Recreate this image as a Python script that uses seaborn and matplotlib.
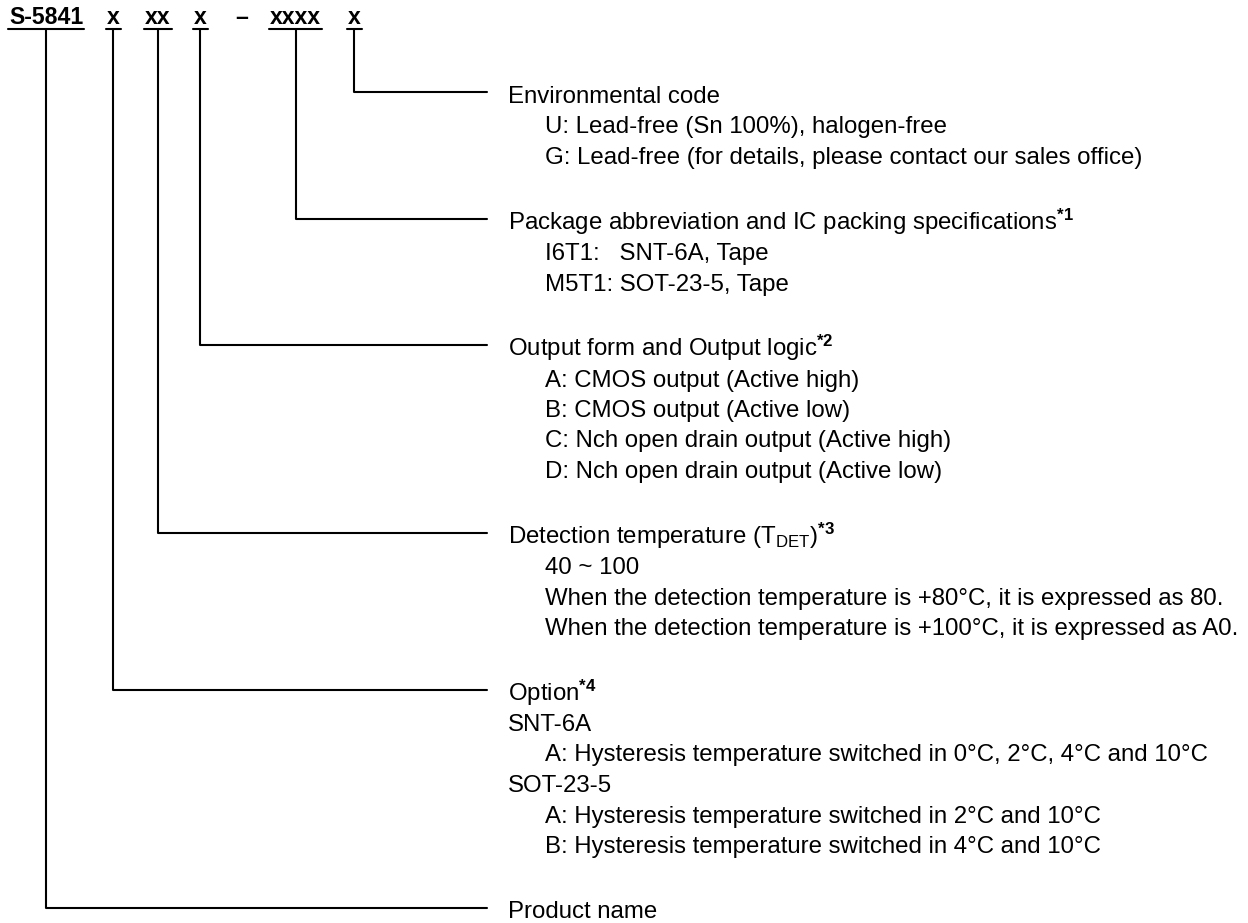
import pandas as pd
import matplotlib
matplotlib.use('Agg')
import matplotlib.pyplot as plt
import seaborn as sns

# Part number tokens (left to right) and the block each one points to
code_tokens = ['S-5841', 'x', 'xx', 'x', '–', 'xxxx', 'x']
token_left = [9, 107, 145, 194, 235, 270, 348]
token_target = ['Product name', 'Option', 'Detection', 'Output', None, 'Package', 'Environmental']

# Description blocks, top to bottom: (key, header, [(line, indent), ...])
env_lines = [('U: Lead-free (Sn 100%), halogen-free', 1),
             ('G: Lead-free (for details, please contact our sales office)', 1)]
pkg_lines = [('I6T1:   SNT-6A, Tape', 1),
             ('M5T1: SOT-23-5, Tape', 1)]
out_lines = [('A: CMOS output (Active high)', 1),
             ('B: CMOS output (Active low)', 1),
             ('C: Nch open drain output (Active high)', 1),
             ('D: Nch open drain output (Active low)', 1)]
det_lines = [('40 ~ 100', 1),
             ('When the detection temperature is +80°C, it is expressed as 80.', 1),
             ('When the detection temperature is +100°C, it is expressed as A0.', 1)]
opt_lines = [('SNT-6A', 0),
             ('A: Hysteresis temperature switched in 0°C, 2°C, 4°C and 10°C', 1),
             ('SOT-23-5', 0),
             ('A: Hysteresis temperature switched in 2°C and 10°C', 1),
             ('B: Hysteresis temperature switched in 4°C and 10°C', 1)]

blocks = [
    ('Environmental', 'Environmental code', env_lines),
    ('Package', r'Package abbreviation and IC packing specifications$^{\mathbf{*1}}$', pkg_lines),
    ('Output', r'Output form and Output logic$^{\mathbf{*2}}$', out_lines),
    ('Detection', r'Detection temperature ($\mathregular{T_{DET}}$)$^{\mathbf{*3}}$', det_lines),
    ('Option', r'Option$^{\mathbf{*4}}$', opt_lines),
    ('Product name', 'Product name', []),
]

sns.set_theme(style='white')
plt.rcParams['font.family'] = ['Liberation Sans', 'DejaVu Sans']
plt.rcParams['mathtext.fontset'] = 'custom'
plt.rcParams['mathtext.rm'] = 'Liberation Sans'
plt.rcParams['mathtext.it'] = 'Liberation Sans'
plt.rcParams['mathtext.bf'] = 'Liberation Sans:bold'

fig = plt.figure(figsize=(12.48, 9.23), dpi=100)
ax = fig.add_axes([0, 0, 1, 1])
ax.set_xlim(0, 1248)
ax.set_ylim(923, 0)
ax.axis('off')

body_fs = 17.25
head_fs = 16.6
line_h = 30.5
gap_h = 35
x_head = 508
x_ind = 545
x_line_end = 487
underline_y = 29

# header tokens with underlines
renderer = fig.canvas.get_renderer()
inv = ax.transData.inverted()
token_center = {}
segs = []
for i, (tok, left) in enumerate(zip(code_tokens, token_left)):
    t = ax.text(left, 24, tok, fontsize=head_fs, fontweight='bold',
                ha='left', va='baseline', color='black')
    if tok == '–':
        continue
    bb = t.get_window_extent(renderer)
    (x0, _), (x1, _) = inv.transform([(bb.x0, 0), (bb.x1, 0)])
    x0, x1 = min(x0, x1) - 1, max(x0, x1) + 1
    segs.append(pd.DataFrame({'x': [x0, x1], 'y': [underline_y] * 2, 'seg': f'u{i}'}))
    token_center[token_target[i]] = (x0 + x1) / 2

# description blocks and connectors
y = 95
for key, header, lines in blocks:
    ax.text(x_head, y + 8, header, fontsize=body_fs, ha='left', va='baseline', color='black')
    xc = token_center[key]
    segs.append(pd.DataFrame({'x': [xc, xc, x_line_end],
                              'y': [underline_y, y - 3, y - 3], 'seg': f'c_{key}'}))
    for txt, ind in lines:
        y += line_h
        ax.text(x_ind if ind else x_head, y + 8, txt, fontsize=body_fs,
                ha='left', va='baseline', color='black')
    y += line_h + gap_h

df = pd.concat(segs, ignore_index=True)
sns.lineplot(data=df, x='x', y='y', units='seg', estimator=None, sort=False,
             color='black', linewidth=1.5, ax=ax, legend=False)
ax.set_xlim(0, 1248)
ax.set_ylim(923, 0)
ax.axis('off')

fig.savefig('out.png', dpi=100)
